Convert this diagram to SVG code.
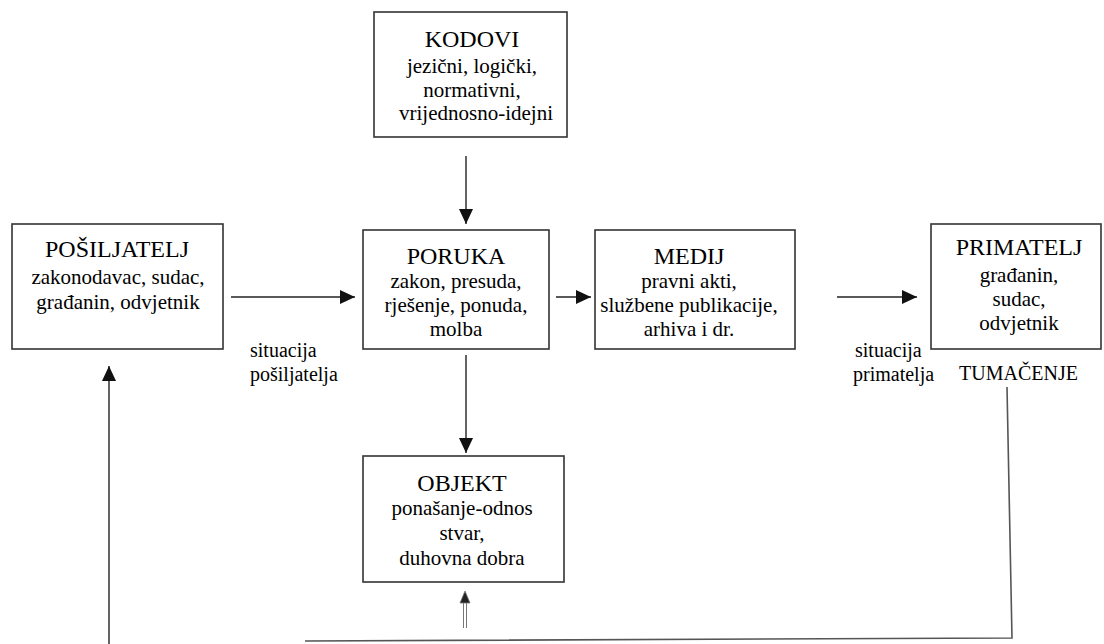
<svg xmlns="http://www.w3.org/2000/svg" width="1104" height="644" viewBox="0 0 1104 644">
<style>
.box{fill:#fff;stroke:#333;stroke-width:1.6}
.t{font-family:"Liberation Serif","Times New Roman",serif;fill:#000;text-anchor:middle}
.h{font-size:24px}
.s{font-size:21px}
.l{font-family:"Liberation Serif","Times New Roman",serif;fill:#000;font-size:20px}
.c{fill:none;stroke:#222;stroke-width:1.4}
</style>
<defs>
<marker id="ah" markerUnits="userSpaceOnUse" markerWidth="16" markerHeight="16" viewBox="0 0 16 16" refX="15" refY="8" orient="auto">
<path d="M0,1 L15,8 L0,15 Z" fill="#111"/>
</marker>
</defs>
<rect width="1104" height="644" fill="#fff"/>
<g id="connectors">
<line class="c" x1="466" y1="156" x2="466" y2="224" marker-end="url(#ah)"/>
<line class="c" x1="231" y1="297" x2="355" y2="297" marker-end="url(#ah)"/>
<line class="c" x1="556" y1="297" x2="591" y2="297" marker-end="url(#ah)"/>
<line class="c" x1="837" y1="297" x2="917" y2="297" marker-end="url(#ah)"/>
<line class="c" x1="466" y1="355" x2="466" y2="453" marker-end="url(#ah)"/>
<line class="c" x1="109" y1="644" x2="109" y2="366" marker-end="url(#ah)"/>
<polyline points="1007,387 1012,638 305,641" fill="none" stroke="#555" stroke-width="1.6"/>
<g id="small-arrow">
<line x1="463.5" y1="600" x2="463.5" y2="628" stroke="#777" stroke-width="1"/>
<line x1="466.5" y1="600" x2="466.5" y2="628" stroke="#777" stroke-width="1"/>
<path d="M465,591 L470,603 L460,603 Z" fill="#222" stroke="#777" stroke-width="0.8"/>
</g>
</g>
<g id="kodovi">
<rect class="box" x="374" y="12" width="193" height="125"/>
<text class="t h" x="472" y="47">KODOVI</text>
<text class="t s" x="472" y="73">jezični, logički,</text>
<text class="t s" x="472" y="97">normativni,</text>
<text class="t s" x="476" y="120">vrijednosno-idejni</text>
</g>
<g id="posiljatelj">
<rect class="box" x="12" y="224" width="211" height="125"/>
<text class="t h" x="117" y="257">POŠILJATELJ</text>
<text class="t s" x="118" y="284">zakonodavac, sudac,</text>
<text class="t s" x="118" y="309">građanin, odvjetnik</text>
</g>
<g id="poruka">
<rect class="box" x="363" y="230" width="186" height="119"/>
<text class="t h" x="456" y="264">PORUKA</text>
<text class="t s" x="456" y="288">zakon, presuda,</text>
<text class="t s" x="456" y="312">rješenje, ponuda,</text>
<text class="t s" x="456" y="336">molba</text>
</g>
<g id="medij">
<rect class="box" x="595" y="230" width="200" height="119"/>
<text class="t h" x="689" y="264">MEDIJ</text>
<text class="t s" x="689" y="288">pravni akti,</text>
<text class="t s" x="689" y="312">službene publikacije,</text>
<text class="t s" x="689" y="336">arhiva i dr.</text>
</g>
<g id="primatelj">
<rect class="box" x="931" y="224" width="170" height="125"/>
<text class="t h" x="1019" y="255">PRIMATELJ</text>
<text class="t s" x="1019" y="282">građanin,</text>
<text class="t s" x="1019" y="306">sudac,</text>
<text class="t s" x="1019" y="330">odvjetnik</text>
</g>
<g id="objekt">
<rect class="box" x="363" y="456" width="201" height="126"/>
<text class="t h" x="462" y="491">OBJEKT</text>
<text class="t s" x="462" y="515">ponašanje-odnos</text>
<text class="t s" x="462" y="540">stvar,</text>
<text class="t s" x="462" y="565">duhovna dobra</text>
</g>
<g id="labels">
<text class="l" x="250" y="357">situacija</text>
<text class="l" x="250" y="381">pošiljatelja</text>
<text class="l" x="855" y="357">situacija</text>
<text class="l" x="853" y="381">primatelja</text>
<text class="l" x="959" y="380">TUMAČENJE</text>
</g>
</svg>
